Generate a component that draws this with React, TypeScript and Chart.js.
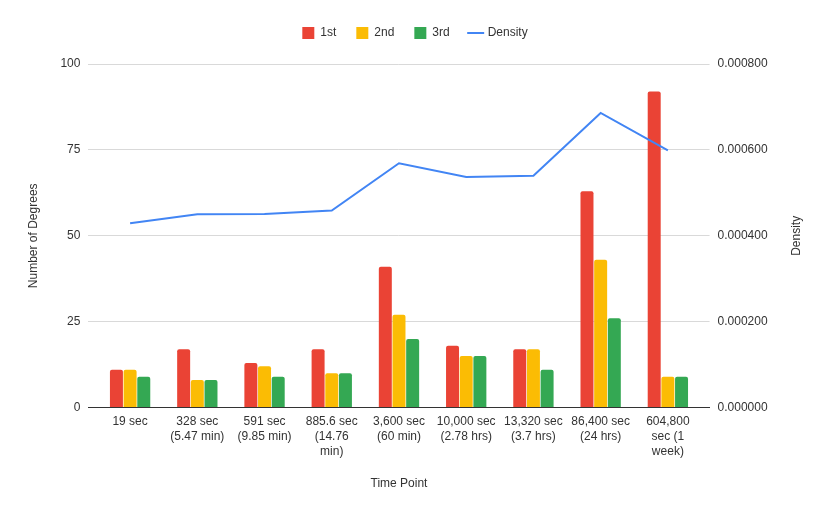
import React, { useEffect, useRef } from 'react'
import { Chart, registerables } from 'chart.js'

Chart.register(...registerables)

const timePoints: string[][] = [
  ['19 sec'],
  ['328 sec', '(5.47 min)'],
  ['591 sec', '(9.85 min)'],
  ['885.6 sec', '(14.76', 'min)'],
  ['3,600 sec', '(60 min)'],
  ['10,000 sec', '(2.78 hrs)'],
  ['13,320 sec', '(3.7 hrs)'],
  ['86,400 sec', '(24 hrs)'],
  ['604,800', 'sec (1', 'week)'],
]

const first = [11, 17, 13, 17, 41, 18, 17, 63, 92]
const second = [11, 8, 12, 10, 27, 15, 17, 43, 9]
const third = [9, 8, 9, 10, 20, 15, 11, 26, 9]
const density = [0.000429, 0.00045, 0.000451, 0.000459, 0.000569, 0.000537, 0.00054, 0.000686, 0.000599]

const FONT = '"Liberation Sans", Arial, sans-serif'
const TEXT = '#333'

// chart.js puts a right axis title top-to-bottom, the reference reads bottom-to-top
const rightTitle = {
  id: 'rightTitle',
  afterDraw(chart: Chart) {
    const s = chart.scales.y1
    const ctx = chart.ctx
    ctx.save()
    ctx.translate(s.right - 26 - 7.2, (s.top + s.bottom) / 2)
    ctx.rotate(-Math.PI / 2)
    ctx.font = '12px ' + FONT
    ctx.fillStyle = TEXT
    ctx.textAlign = 'center'
    ctx.textBaseline = 'middle'
    ctx.fillText('Density', 0, 0)
    ctx.restore()
  },
}

// extra room under the legend
const legendGap = {
  id: 'legendGap',
  beforeInit(chart: any) {
    const legend = chart.legend
    if (!legend) return
    const fit = legend.fit
    legend.fit = function () {
      fit.call(this)
      this.height += 15
    }
  },
}

function DegreesChart() {
  const ref = useRef<HTMLCanvasElement>(null)

  useEffect(() => {
    const ctx = ref.current
    if (!ctx) {
      return
    }

    const bar = (label: string, data: number[], color: string) => ({
      type: 'bar' as const,
      label,
      data,
      backgroundColor: color,
      borderRadius: { topLeft: 2, topRight: 2 },
      borderSkipped: 'bottom' as const,
      categoryPercentage: 0.61,
      barPercentage: 0.95,
      yAxisID: 'y',
      pointStyle: 'rect' as const,
    })

    const chart = new Chart(ctx, {
      type: 'bar',
      data: {
        // numeric positions, the text comes from timePoints in the tick callback
        labels: timePoints.map((_, i) => i),
        datasets: [
          bar('1st', first, '#ea4335'),
          bar('2nd', second, '#fbbc04'),
          bar('3rd', third, '#34a853'),
          {
            type: 'line' as const,
            label: 'Density',
            data: density,
            borderColor: '#4285f4',
            backgroundColor: '#4285f4',
            borderWidth: 2,
            pointRadius: 0,
            tension: 0,
            yAxisID: 'y1',
            order: -1,
            pointStyle: 'line' as const,
          } as any,
        ],
      },
      options: {
        responsive: true,
        maintainAspectRatio: false,
        animation: false,
        layout: { padding: { top: 7, left: 0, right: 0, bottom: 0 } },
        font: { family: FONT, size: 12 },
        plugins: {
          tooltip: { enabled: false },
          legend: {
            position: 'top',
            labels: {
              usePointStyle: true,
              boxWidth: 12,
              boxHeight: 12,
              padding: 20,
              color: TEXT,
              font: { family: FONT, size: 12 },
              sort: (a, b) => (a.datasetIndex ?? 0) - (b.datasetIndex ?? 0),
            },
          },
        },
        scales: {
          x: {
            type: 'linear',
            min: -0.62,
            max: timePoints.length - 1 + 0.62,
            offset: false,
            afterBuildTicks: (scale: any) => {
              scale.ticks = timePoints.map((_, i) => ({ value: i }))
            },
            grid: { display: false, drawTicks: false },
            border: { display: true, color: '#333', width: 1 },
            ticks: {
              autoSkip: false,
              maxRotation: 0,
              padding: 7,
              color: TEXT,
              font: { family: FONT, size: 12, lineHeight: 1.25 },
              callback: (v) => timePoints[Number(v)] ?? '',
            },
            title: {
              display: true,
              text: 'Time Point',
              color: TEXT,
              font: { family: FONT, size: 12 },
              padding: { top: 10, bottom: 23 },
            },
          },
          y: {
            position: 'left',
            min: 0,
            max: 100,
            grid: { color: '#d9d9d9', drawTicks: false },
            border: { display: false },
            ticks: {
              stepSize: 25,
              padding: 8,
              color: TEXT,
              font: { family: FONT, size: 12 },
            },
            title: {
              display: true,
              text: 'Number of Degrees',
              color: TEXT,
              font: { family: FONT, size: 12 },
              padding: { top: 26, bottom: 12 },
            },
          },
          y1: {
            position: 'right',
            min: 0,
            max: 0.0008,
            grid: { display: false, drawTicks: false },
            border: { display: false },
            ticks: {
              stepSize: 0.0002,
              padding: 8,
              color: TEXT,
              font: { family: FONT, size: 12 },
              callback: (v) => Number(v).toFixed(6),
            },
            title: {
              display: true,
              text: 'Density',
              color: 'rgba(0,0,0,0)',
              font: { family: FONT, size: 12 },
              padding: { top: 26, bottom: 14 },
            },
          },
        },
      },
      plugins: [rightTitle, legendGap],
    })

    return () => {
      chart.destroy()
    }
  }, [])

  return (
    <div style={{ position: 'absolute', left: 0, top: 0, width: 830, height: 514, background: '#fff' }}>
      <canvas ref={ref}></canvas>
    </div>
  )
}

export default function App() {
  return <DegreesChart />
}
